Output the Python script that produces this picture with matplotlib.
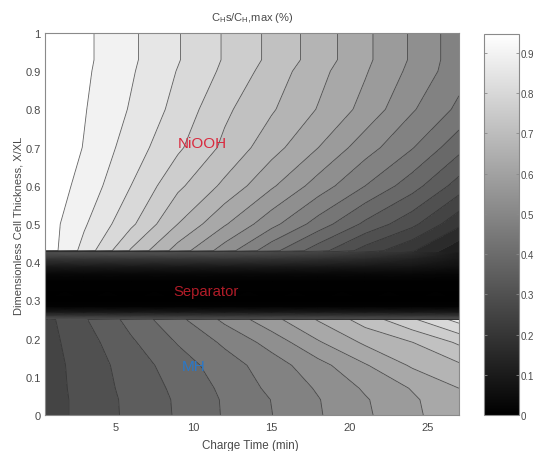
import numpy as np
import matplotlib
matplotlib.use('Agg')
import matplotlib.pyplot as plt
from matplotlib.cm import ScalarMappable
from matplotlib.colors import Normalize

plt.rcParams['font.family'] = ['Liberation Sans', 'DejaVu Sans']
plt.rcParams['mathtext.fontset'] = 'custom'
plt.rcParams['mathtext.rm'] = 'Liberation Sans'

# values, one list per row of the cell (X/XL)
times = [0.5, 3, 6, 9, 12, 15, 18, 21, 24, 27]

# NiOOH electrode
y_niooh = [0.43, 0.5, 0.6, 0.7, 0.8, 0.9, 0.93, 1.0]
z_niooh = [
    [0.930, 0.840, 0.715, 0.610, 0.518, 0.420, 0.334, 0.250, 0.185, 0.100],
    [0.925, 0.861, 0.775, 0.675, 0.590, 0.510, 0.430, 0.350, 0.283, 0.190],
    [0.930, 0.885, 0.810, 0.730, 0.665, 0.592, 0.520, 0.450, 0.380, 0.295],
    [0.940, 0.898, 0.834, 0.773, 0.710, 0.648, 0.585, 0.515, 0.453, 0.375],
    [0.945, 0.903, 0.851, 0.795, 0.729, 0.680, 0.627, 0.570, 0.500, 0.440],
    [0.947, 0.908, 0.860, 0.808, 0.756, 0.700, 0.644, 0.589, 0.528, 0.468],
    [0.950, 0.910, 0.863, 0.813, 0.761, 0.709, 0.654, 0.595, 0.534, 0.470],
    [0.950, 0.910, 0.863, 0.813, 0.761, 0.709, 0.654, 0.595, 0.534, 0.470],
]

# separator
y_sep = [0.253, 0.26, 0.27, 0.285, 0.30, 0.35, 0.37, 0.39, 0.41, 0.425]
z_sep = [
    [0.280, 0.280, 0.280, 0.280, 0.280, 0.280, 0.280, 0.280, 0.280, 0.280],
    [0.200, 0.200, 0.200, 0.200, 0.200, 0.200, 0.200, 0.200, 0.200, 0.200],
    [0.090, 0.090, 0.090, 0.090, 0.090, 0.090, 0.090, 0.090, 0.090, 0.090],
    [0.010, 0.010, 0.010, 0.010, 0.010, 0.010, 0.010, 0.010, 0.010, 0.010],
    [0.000, 0.000, 0.000, 0.000, 0.000, 0.000, 0.000, 0.000, 0.000, 0.000],
    [0.005, 0.005, 0.005, 0.005, 0.005, 0.005, 0.005, 0.005, 0.005, 0.005],
    [0.030, 0.030, 0.030, 0.030, 0.030, 0.030, 0.030, 0.030, 0.030, 0.025],
    [0.100, 0.100, 0.100, 0.100, 0.100, 0.100, 0.095, 0.090, 0.080, 0.060],
    [0.200, 0.200, 0.200, 0.200, 0.200, 0.195, 0.180, 0.160, 0.130, 0.085],
    [0.290, 0.290, 0.290, 0.290, 0.285, 0.270, 0.250, 0.210, 0.170, 0.095],
]

# MH electrode
y_mh = [0.0, 0.04, 0.07, 0.13, 0.19, 0.25]
z_mh = [
    [0.248, 0.284, 0.325, 0.365, 0.409, 0.449, 0.491, 0.533, 0.575, 0.617],
    [0.248, 0.284, 0.326, 0.366, 0.410, 0.451, 0.493, 0.536, 0.578, 0.620],
    [0.250, 0.285, 0.330, 0.370, 0.415, 0.460, 0.500, 0.546, 0.588, 0.630],
    [0.250, 0.288, 0.336, 0.383, 0.429, 0.473, 0.524, 0.581, 0.636, 0.668],
    [0.253, 0.295, 0.353, 0.408, 0.458, 0.512, 0.580, 0.638, 0.674, 0.727],
    [0.255, 0.310, 0.375, 0.438, 0.505, 0.570, 0.634, 0.695, 0.758, 0.826],
]

levels = [0.0, 0.045, 0.09, 0.135, 0.18, 0.225, 0.27, 0.315, 0.36, 0.405, 0.45,
          0.495, 0.54, 0.585, 0.63, 0.675, 0.72, 0.765, 0.81, 0.855, 0.90, 0.96]
xticks = [5, 10, 15, 20, 25]
yticks = [0, 0.1, 0.2, 0.3, 0.4, 0.5, 0.6, 0.7, 0.8, 0.9, 1]
yticklabels = ['0', '0.1', '0.2', '0.3', '0.4', '0.5', '0.6', '0.7', '0.8', '0.9', '1']
cbar_ticks = [0, 0.1, 0.2, 0.3, 0.4, 0.5, 0.6, 0.7, 0.8, 0.9]
cbar_labels = ['0', '0.1', '0.2', '0.3', '0.4', '0.5', '0.6', '0.7', '0.8', '0.9']

W, H = 535, 452
edge = '#8a8a8a'
txt = '#4a4a4a'

fig = plt.figure(figsize=(W / 100, H / 100), dpi=100)
ax = fig.add_axes([45 / W, 1 - 416 / H, (459 - 45) / W, (416 - 34) / H])

T = np.array(times)
Y = np.array(y_mh + y_sep + y_niooh)
Z = np.array(z_mh + z_sep + z_niooh)

ax.contourf(T, Y, Z, levels=levels, cmap='gray', vmin=0, vmax=0.925)
ax.contour(T, Y, Z, levels=levels[1:-1], colors='#2e2e2e', linewidths=0.6, alpha=0.75, zorder=2)
# the separator is a smooth dark ramp, not visible bands
ax.pcolormesh(T, np.array(y_sep), np.array(z_sep), cmap='gray', vmin=0, vmax=0.925,
              shading='gouraud', zorder=3)

ax.set_xlim(0.5, 27)
ax.set_ylim(0, 1)
ax.set_xticks(xticks)
ax.set_yticks(yticks)
ax.set_yticklabels(yticklabels)
ax.tick_params(length=0, labelsize=8, labelcolor=txt)
ax.tick_params(axis='y', pad=3)
ax.tick_params(axis='x', pad=5)
for s in ax.spines.values():
    s.set_color(edge)
    s.set_linewidth(0.8)
    s.set_zorder(5)

ax.text(10.6, 0.712, 'NiOOH', color='#d92a3e', fontsize=11, ha='center', va='center', zorder=6)
ax.text(10.8, 0.325, 'Separator', color='#b01c28', fontsize=10.7, ha='center', va='center', zorder=6)
ax.text(10.0, 0.128, 'MH', color='#2a78c8', fontsize=11, ha='center', va='center', zorder=6)

fig.text(252 / W, 1 - 18 / H, r'C$_{\mathrm{H}}$s/C$_{\mathrm{H}}$,max (%)', color=txt,
         fontsize=8, ha='center', va='center')
fig.text(250 / W, 1 - 446 / H, 'Charge Time (min)', color=txt, fontsize=8.4, ha='center', va='center')
fig.text(19 / W, 1 - 226 / H, 'Dimensionless Cell Thickness, X/XL', color=txt, fontsize=8,
         rotation=90, ha='center', va='center')

cax = fig.add_axes([484 / W, 1 - 416 / H, (519 - 484) / W, (416 - 35) / H])
cb = fig.colorbar(ScalarMappable(norm=Normalize(0, 0.947), cmap='gray'), cax=cax)
cb.set_ticks(cbar_ticks)
cb.set_ticklabels(cbar_labels)
cax.tick_params(direction='in', left=True, right=True, length=2.5, width=0.6, color=edge,
                labelsize=7, labelcolor=txt, pad=1.5)
cb.outline.set_edgecolor(edge)
cb.outline.set_linewidth(0.8)

plt.savefig('out.png', dpi=100)
